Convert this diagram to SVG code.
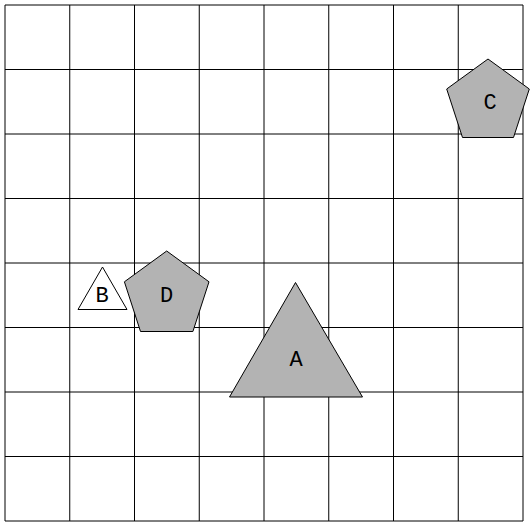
<svg xmlns="http://www.w3.org/2000/svg" width="531" height="522" viewBox="0 0 531 522">
<style>
.grid line{stroke:#000;stroke-width:1;}
.shape{stroke:#000;stroke-width:1;fill:#b3b3b3;}
.white{fill:#fff;}
.lbl{font-family:'Liberation Mono','Courier New',monospace;font-size:22px;fill:#000;text-anchor:middle;}
</style>
<rect x="0" y="0" width="531" height="522" fill="#fff"/>
<g class="grid" id="grid">
<line x1="5" y1="5" x2="5" y2="521"/>
<line x1="69.75" y1="5" x2="69.75" y2="521"/>
<line x1="134.5" y1="5" x2="134.5" y2="521"/>
<line x1="199.25" y1="5" x2="199.25" y2="521"/>
<line x1="264" y1="5" x2="264" y2="521"/>
<line x1="328.75" y1="5" x2="328.75" y2="521"/>
<line x1="393.5" y1="5" x2="393.5" y2="521"/>
<line x1="458.25" y1="5" x2="458.25" y2="521"/>
<line x1="523" y1="5" x2="523" y2="521"/>
<line x1="5" y1="5" x2="523" y2="5"/>
<line x1="5" y1="69.5" x2="523" y2="69.5"/>
<line x1="5" y1="134" x2="523" y2="134"/>
<line x1="5" y1="198.5" x2="523" y2="198.5"/>
<line x1="5" y1="263" x2="523" y2="263"/>
<line x1="5" y1="327.5" x2="523" y2="327.5"/>
<line x1="5" y1="392" x2="523" y2="392"/>
<line x1="5" y1="456.5" x2="523" y2="456.5"/>
<line x1="5" y1="521" x2="523" y2="521"/>
</g>
<g id="connectors"></g>
<g id="node-A">
<polygon class="shape" points="295.5,282.5 229.5,397 362.5,397"/>
<text class="lbl" x="296" y="366">A</text>
</g>
<g id="node-B">
<polygon class="shape white" points="102.5,267 78,309.5 127,309.5"/>
<text class="lbl" x="102" y="302">B</text>
</g>
<g id="node-C">
<polygon class="shape" points="488,59 529.3,89 513.5,137.5 462.5,137.5 446.7,89"/>
<text class="lbl" x="490" y="109">C</text>
</g>
<g id="node-D">
<polygon class="shape" points="166.7,251 209,281.8 192.9,331.5 140.5,331.5 124.4,281.8"/>
<text class="lbl" x="166.5" y="302">D</text>
</g>
</svg>
